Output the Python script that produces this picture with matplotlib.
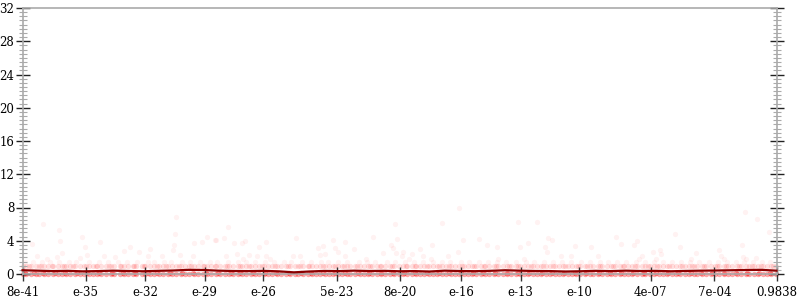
import matplotlib
matplotlib.use("Agg")
import matplotlib.pyplot as plt
from matplotlib.ticker import MultipleLocator

# ---------------- data ----------------
tick_positions = [0, 84, 162.5, 241.4, 319.4, 416.7, 500.7, 582.2, 660.5, 738.5, 833.2, 917.5, 1000]
tick_labels = ["8e-41", "e-35", "e-32", "e-29", "e-26", "5e-23", "8e-20", "e-16",
               "e-13", "e-10", "4e-07", "7e-04", "0.9838"]

# scattered outlier samples (x index, value)
scatter_x = [27.4, 48.1, 50.3, 12.8, 79, 103, 83.4, 52.5, 46, 19.4, 32.7, 85.6, 76.8, 107.7, 123,
             134, 143, 154, 169.5, 167, 185, 200, 201, 202.6, 204, 209, 227, 226, 238, 245, 256,
             273, 255.6, 267.6, 280, 291, 295, 313, 323, 270, 284, 293, 300, 311, 323, 328.5,
             363, 359, 368, 392, 399, 394, 401, 412, 414, 419, 428, 439, 428, 456, 465, 478,
             489, 491, 494, 497, 496, 505, 503, 512,
             578.8, 556, 657.4, 682.5, 584.6, 605, 542.5, 527, 616, 629.6, 578, 660, 670, 697,
             702.5, 692.7, 695, 733, 754, 516, 531, 542, 564, 630, 665, 714, 727,
             958.5, 974, 990.7, 866, 815.5, 810.6, 794, 787.6, 763, 836, 845, 847, 840, 872,
             893, 887, 924, 926, 931, 954, 955, 959.5, 972.6, 818, 821]
scatter_y = [5.98, 5.3, 3.97, 3.6, 4.5, 3.9, 3.3, 2.5, 2.1, 2.2, 1.8, 2.3, 1.9, 2.2, 2.0,
             2.77, 3.3, 2.7, 3.0, 2.2, 2.2, 2.9, 3.5, 4.8, 6.9, 2.25, 3.7, 2.2, 3.9, 4.5, 4.05,
             5.6, 4.1, 4.3, 3.7, 3.77, 4.0, 3.3, 3.8, 2.2, 2.4, 1.8, 2.3, 2.2, 2.2, 1.8,
             4.3, 2.2, 2.2, 3.1, 3.4, 2.3, 2.4, 4.1, 3.1, 2.7, 3.8, 3.0, 2.2, 1.8, 4.4, 2.5,
             3.5, 3.1, 6.0, 4.25, 2.5, 2.7, 2.2, 1.8,
             7.9, 6.1, 6.2, 6.3, 4.1, 4.25, 3.45, 3.05, 3.45, 3.2, 2.7, 3.2, 3.7, 4.3,
             4.1, 3.2, 2.65, 3.4, 3.2, 2.4, 2.2, 1.8, 2.2, 1.8, 1.8, 2.2, 2.2,
             7.4, 6.6, 5.1, 4.8, 3.97, 3.45, 3.6, 4.4, 2.2, 2.7, 2.9, 2.4, 1.8, 3.2,
             2.5, 1.8, 2.9, 2.2, 1.8, 3.45, 2.1, 1.8, 1.9, 1.8, 2.2]

# samples sitting on the 1.5 row
row15_x = [3, 14, 26, 37, 48, 62, 71, 88, 101, 113, 127, 138, 152, 166, 174, 188, 197, 211,
           222, 236, 249, 258, 272, 286, 297, 308, 322, 333, 347, 356, 371, 383, 396, 405,
           419, 431, 446, 457, 468, 483, 494, 507, 519, 531, 544, 556, 567, 581, 592, 606,
           618, 629, 641, 655, 668, 679, 691, 704, 716, 727, 741, 752, 766, 777, 789, 801,
           813, 826, 838, 849, 862, 874, 885, 897, 911, 922, 934, 946, 957, 969, 981, 992]

# samples sitting on the 1.0 row (dense)
band1_x = [0, 5, 11, 18, 22, 29, 34, 41, 47, 52, 58, 63, 70, 76, 81, 88, 93, 99, 104, 111, 117,
           122, 129, 134, 140, 146, 151, 158, 163, 169, 175, 181, 186, 193, 198, 204, 210, 215,
           221, 228, 233, 239, 245, 250, 257, 262, 268, 274, 279, 286, 291, 297, 303, 309, 314,
           320, 326, 331, 338, 343, 349, 355, 361, 366, 372, 378, 384, 389, 395, 401, 407, 412,
           418, 424, 430, 435, 441, 447, 453, 458, 464, 470, 476, 481, 487, 493, 499, 504, 510,
           516, 522, 527, 533, 539, 545, 550, 556, 562, 568, 573, 579, 585, 591, 596, 602, 608,
           614, 619, 625, 631, 637, 642, 648, 654, 660, 665, 671, 677, 683, 688, 694, 700, 706,
           711, 717, 723, 729, 734, 740, 746, 752, 757, 763, 769, 775, 780, 786, 792, 798, 803,
           809, 815, 821, 826, 832, 838, 844, 849, 855, 861, 867, 872, 878, 884, 890, 895, 901,
           907, 913, 918, 924, 930, 936, 941, 947, 953, 959, 964, 970, 976, 982, 987, 993, 999]
band1b_x = [8, 24, 39, 55, 67, 84, 97, 115, 131, 148, 161, 178, 190, 207, 224, 241, 255, 271,
            288, 301, 317, 335, 352, 368, 380, 399, 415, 427, 444, 461, 474, 490, 508, 520,
            536, 553, 566, 583, 599, 612, 628, 645, 657, 674, 690, 703, 720, 737, 749, 766,
            783, 796, 812, 829, 841, 858, 875, 888, 904, 921, 933, 950, 967, 979, 996]

# samples on the 0 row (dense)
band0b_x = [3, 15, 27, 43, 56, 72, 86, 102, 119, 133, 149, 166, 179, 196, 212, 226, 243, 259,
            276, 289, 306, 322, 336, 353, 369, 383, 398, 414, 428, 445, 460, 475, 491, 506,
            521, 537, 552, 566, 582, 598, 611, 627, 643, 657, 672, 689, 702, 718, 733, 748,
            764, 779, 794, 810, 824, 840, 856, 870, 886, 900, 915, 931, 946, 961, 977, 992]

# running median line
line_x = [0, 20, 40, 60, 80, 100, 120, 140, 160, 180, 200, 220, 240, 260, 280, 300, 320, 340,
          360, 380, 400, 420, 440, 460, 480, 500, 520, 540, 560, 580, 600, 620, 640, 660, 680,
          700, 720, 740, 760, 780, 800, 820, 840, 860, 880, 900, 920, 940, 960, 980, 1000]
line_y = [0.45, 0.4, 0.35, 0.38, 0.32, 0.35, 0.4, 0.36, 0.33, 0.38, 0.42, 0.5, 0.48, 0.4, 0.36,
          0.35, 0.38, 0.32, 0.2, 0.3, 0.37, 0.35, 0.4, 0.36, 0.38, 0.33, 0.35, 0.3, 0.4, 0.36,
          0.34, 0.38, 0.45, 0.4, 0.36, 0.35, 0.3, 0.33, 0.38, 0.35, 0.4, 0.36, 0.38, 0.33, 0.37,
          0.4, 0.42, 0.45, 0.48, 0.5, 0.4]

y_ticks = [0, 4, 8, 12, 16, 20, 24, 28, 32]

# ---------------- plot ----------------
plt.rcParams['font.family'] = ['DejaVu Serif']
fig = plt.figure(figsize=(8, 3), dpi=100)
ax = fig.add_axes([22.5 / 800, 26 / 300, 754 / 800, 266 / 300])

red = "#ff0000"
ms = 15
ax.scatter(scatter_x, scatter_y, s=ms, color=red, alpha=0.05, linewidths=0, clip_on=False)
ax.scatter(row15_x, [1.5] * len(row15_x), s=ms, color=red, alpha=0.05, linewidths=0, clip_on=False)
ax.scatter(band1_x, [1.0] * len(band1_x), s=ms, color=red, alpha=0.12, linewidths=0, clip_on=False)
ax.scatter(band1b_x, [1.0] * len(band1b_x), s=ms, color=red, alpha=0.12, linewidths=0, clip_on=False)
ax.scatter(band1_x, [0.0] * len(band1_x), s=ms, color=red, alpha=0.35, linewidths=0, clip_on=False)
ax.scatter(band0b_x, [0.1] * len(band0b_x), s=ms, color=red, alpha=0.35, linewidths=0, clip_on=False)
ax.plot(line_x, line_y, color="#8b0000", lw=1.6, clip_on=False, zorder=5)

ax.set_xlim(0, 1000)
ax.set_ylim(0, 32)
ax.set_xticks(tick_positions)
ax.set_xticklabels(tick_labels)
ax.set_yticks(y_ticks)
ax.yaxis.set_minor_locator(MultipleLocator(0.5))

for side in ["top", "left", "right", "bottom"]:
    ax.spines[side].set_color("#aaaaaa")
    ax.spines[side].set_linewidth(1.2)

ax.tick_params(axis="x", direction="inout", length=10, width=1, color="#333333",
               labelsize=8.5, pad=3.5)
ax.tick_params(axis="y", which="major", direction="inout", length=10, width=1,
               color="#222222", labelsize=8.5, pad=1, right=True)
ax.tick_params(axis="y", which="minor", direction="inout", length=6, width=0.8,
               color="#aaaaaa", right=True)

fig.savefig("out.png", dpi=100)
